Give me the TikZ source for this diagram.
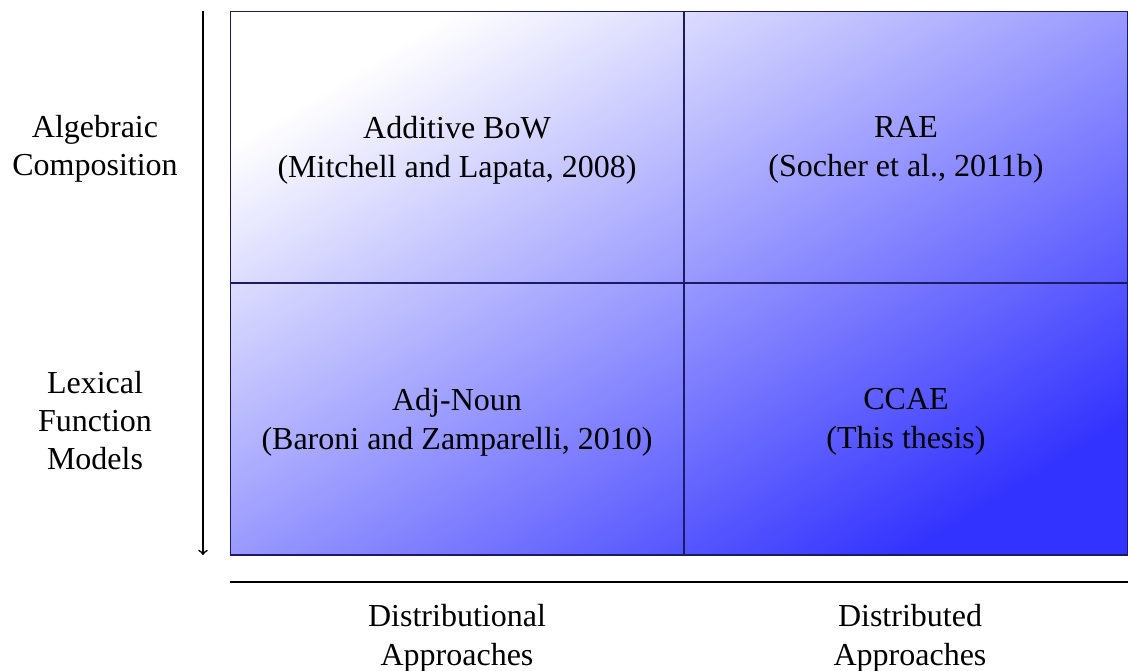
\documentclass[tikz,border=0pt]{standalone}
\usepackage{fontspec}
\setmainfont{Liberation Serif}
\definecolor{lineblue}{HTML}{1A1A66}
% white (top left) to 3333FF (bottom right), level lines along the other diagonal
\pgfdeclarefunctionalshading{diagblue}{\pgfpointorigin}{\pgfpoint{100bp}{100bp}}{}{
    sub 50 add 50 div
    0.25 sub 1.5 div
    dup 0 lt {pop 0} if dup 1 gt {pop 1} if
    0.8 mul 1 exch sub dup 1
}
\begin{document}
\begin{tikzpicture}[x=0.5pt, y=-0.5pt, font=\fontsize{16}{19.5}\selectfont, line join=round, >=to,
    cat/.style={align=center},
    cell/.style={align=center}]
    \useasboundingbox (0,0) rectangle (1128,670);
    % shaded grid
    \begin{scope}
        \clip (230,11) rectangle (1128,555);
        \shade[shading=diagblue] (230,11) rectangle (1128,555);
        \draw[lineblue, line width=0.6pt] (230,11) rectangle (1128,555);
        \draw[lineblue, line width=0.6pt] (684,11)--(684,555);
        \draw[lineblue, line width=0.6pt] (230,283)--(1128,283);
    \end{scope}
    % cells
    \node[cell] (bow) at (457,150) {Additive BoW\\(Mitchell and Lapata, 2008)};
    \node[cell] (rae) at (906,150) {RAE\\(Socher et al., 2011b)};
    \node[cell] (adjn) at (457,422) {Adj-Noun\\(Baroni and Zamparelli, 2010)};
    \node[cell] (ccae) at (906,422) {CCAE\\(This thesis)};
    % row labels
    \node[cat, font=\fontsize{16}{19}\selectfont] (alg) at (95,149) {Algebraic\\Composition};
    \node[cat, font=\fontsize{16}{19}\selectfont] (lex) at (95,421) {Lexical\\Function\\Models};
    \coordinate (atop) at (203,11);
    \coordinate (abot) at (203,555);
    \draw[->, line width=0.8pt] (atop)--(abot);
    % column labels
    \coordinate (hl) at (230,582);
    \coordinate (hr) at (1128,582);
    \draw[line width=0.9pt] (hl)--(hr);
    \node[cat] (dist) at (457,638) {Distributional\\Approaches};
    \node[cat] (distd) at (910,638) {Distributed\\Approaches};
\end{tikzpicture}
\end{document}
